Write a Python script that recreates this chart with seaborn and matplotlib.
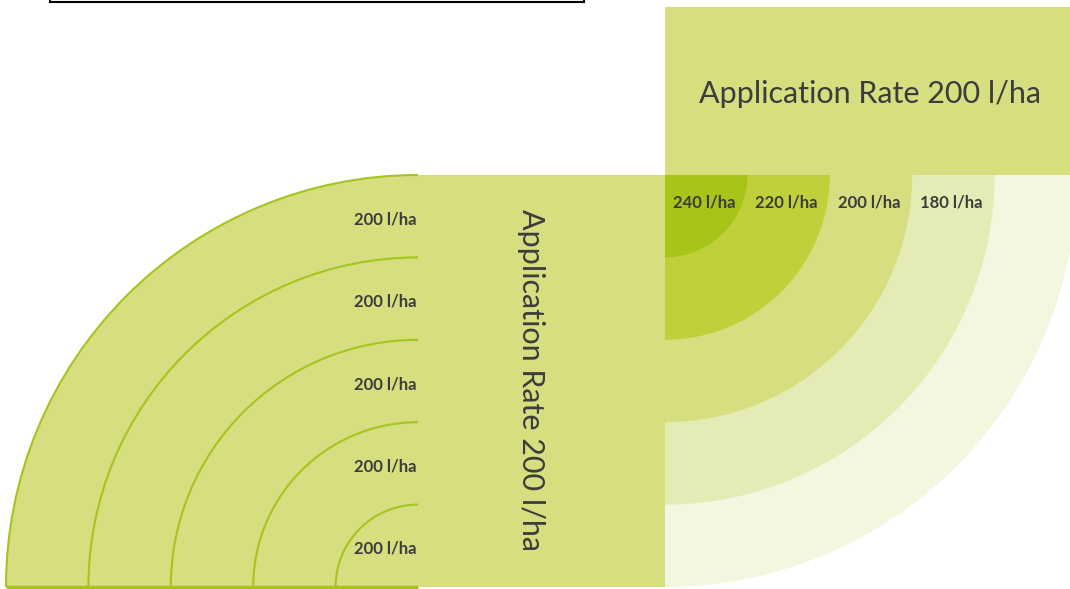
import numpy as np
import matplotlib.pyplot as plt
import seaborn as sns
from matplotlib.patches import Wedge, Rectangle, Arc

# nozzle application rates per ring
left_rates = ["200 l/ha"] * 5                      # outer -> inner
right_rates = ["240 l/ha", "220 l/ha", "200 l/ha", "180 l/ha", ""]  # inner -> outer
title_text = "Application Rate 200 l/ha"

right_colors = ["#a8c418", "#c0d03a", "#d6de80", "#e5ebb4", "#f4f6e0"]
base_color = "#d6de80"
line_color = "#a6c41e"
text_color = "#3c3c3c"

sns.set_style("white")
plt.rcParams['font.family'] = ['Lato', 'DejaVu Sans']

fig = plt.figure(figsize=(10.7, 5.89), dpi=100)
ax = fig.add_axes([0, 0, 1, 1])
ax.set_xlim(0, 1070)
ax.set_ylim(0, 589)
ax.axis('off')

ring = 82.4
n = len(left_rates)

# left quarter: centre bottom-right, equal rings
cx, cy = 418, 2
ax.add_patch(Wedge((cx, cy), n * ring, 90, 180, facecolor=base_color, edgecolor='none'))
for i in range(n):
    r = (i + 1) * ring
    ax.add_patch(Arc((cx, cy), 2 * r, 2 * r, theta1=90, theta2=180, color=line_color, lw=1.5))
ax.plot([cx - n * ring, cx], [cy, cy], color=line_color, lw=2.5, solid_capstyle='butt')
for i, lab in enumerate(left_rates):
    yc = cy + (n - i - 0.5) * ring - 3
    ax.text(cx - 1, yc, lab, ha='right', va='center', fontsize=12,
            fontweight='bold', color=text_color)

# middle block with vertical title
ax.add_patch(Rectangle((cx, cy), 665 - cx, n * ring, facecolor=base_color, edgecolor='none'))
ax.text(531, 209, title_text, rotation=-90, ha='center', va='center',
        fontsize=22, color=text_color)

# right quarter: centre top-left, graded rings
rx, ry = 665, cy + n * ring
for i in reversed(range(len(right_rates))):
    ax.add_patch(Wedge((rx, ry), (i + 1) * ring, 270, 360,
                       facecolor=right_colors[i], edgecolor='none'))
for i, lab in enumerate(right_rates):
    ax.text(rx + (i + 0.5) * ring - 2, ry - 27, lab, ha='center', va='center',
            fontsize=12, fontweight='bold', color=text_color)

# top block with title
ax.add_patch(Rectangle((rx, ry), 1070 - rx, 582 - ry, facecolor=base_color, edgecolor='none'))
ax.text(870, 495, title_text, ha='center', va='center', fontsize=22, color=text_color)

# framed box at the top edge
ax.add_patch(Rectangle((50, 587), 534, 20, facecolor='white', edgecolor='black', lw=1.5))

fig.savefig('out.png', dpi=100)
